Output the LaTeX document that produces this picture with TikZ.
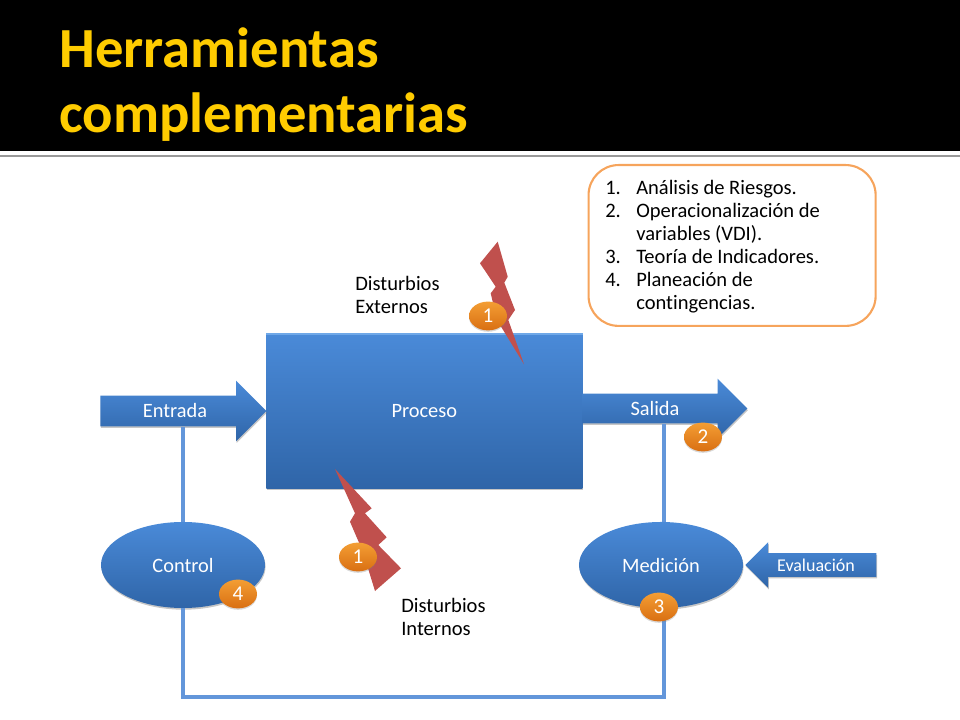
\documentclass[tikz,border=0pt]{standalone}
\usepackage{fontspec}
\setmainfont{Carlito}[Ligatures=NoCommon]
\usetikzlibrary{
  shapes.geometric,
  shapes.arrows,
  shadows
}
\definecolor{azulclaro}{HTML}{4A8AD8}
\definecolor{azuloscuro}{HTML}{2F65A8}
\definecolor{bordeclaro}{HTML}{6FA8E8}
\definecolor{linealazo}{HTML}{6396DA}
\definecolor{rayo}{HTML}{C0504D}
\definecolor{titulo}{HTML}{FFCC00}
\definecolor{naranjaclaro}{HTML}{F8A63A}
\definecolor{naranjaoscuro}{HTML}{D96F12}
\definecolor{bordelista}{HTML}{F6A45C}
\tikzset{
  bloque/.style={shade,top color=azulclaro,bottom color=azuloscuro,draw=none,text=white,
    drop shadow={shadow xshift=0.4pt,shadow yshift=-1.2pt,opacity=0.45}},
  flecha/.style={bloque,single arrow,inner sep=0pt},
  rotulo/.style={text=white,font=\fontsize{14.5}{16}\selectfont},
  elipse/.style={bloque,ellipse,minimum width=4.1cm,minimum height=2.15cm,font=\fontsize{14.5}{16}\selectfont},
  medalla/.style={ellipse,shade,top color=naranjaclaro!85!naranjaoscuro,middle color=naranjaclaro,bottom color=naranjaoscuro,text=white,inner sep=0pt,
    minimum width=0.95cm,minimum height=0.72cm,font=\fontsize{15}{16}\selectfont,
    drop shadow={shadow xshift=0pt,shadow yshift=-1pt,opacity=0.3}},
  lazo/.style={draw=linealazo,line width=2.2pt},
  disturbio/.style={anchor=north west,align=left,inner sep=0pt,font=\fontsize{14.6}{16.4}\selectfont}
}
\begin{document}
\begin{tikzpicture}[x=0.025cm,y=-0.025cm]
	\useasboundingbox (0,0) rectangle (960,720);
	\fill[black] (0,0) rectangle (960,151);
	\fill[gray!80] (0,155.5) rectangle (960,157.5);
	\node[anchor=north west,inner sep=0pt,text=titulo,font=\bfseries\fontsize{40.3}{46.5}\selectfont,align=left] (titulo) at (59,27) {Herramientas\\complementarias};
	% lista
	\node[draw=bordelista,line width=1.5pt,rounded corners=0.75cm,minimum width=7.175cm,minimum height=4.02cm,anchor=north west] (lista) at (587.5,164) {};
	\node[anchor=north west,inner sep=0pt,font=\fontsize{14.6}{16.4}\selectfont] (items) at (605,178) {%
		\begin{tabular}{@{}p{0.775cm}@{}l@{}}
		1. & Análisis de Riesgos.\\
		2. & Operacionalización de\\
		   & variables (VDI).\\
		3. & Teoría de Indicadores.\\
		4. & Planeación de\\
		   & contingencias.
		\end{tabular}};
	% bloques
	\node[bloque,rotulo,minimum width=7.9cm,minimum height=3.85cm,anchor=north west] (proceso) at (266,334) {Proceso};
	\draw[bordeclaro,line width=1.2pt] (proceso.north west) -- (proceso.north east);
	\node[flecha,anchor=tail,minimum height=4.15cm,minimum width=1.5cm,single arrow head extend=0.375cm] (entrada) at (100,411) {\rule{0pt}{0.75cm}};
	\node[rotulo] (entradatxt) at (175,410.5) {Entrada};
	\node[flecha,anchor=tail,minimum height=4.125cm,minimum width=1.475cm,single arrow head extend=0.375cm] (salida) at (582,408.5) {\rule{0pt}{0.725cm}};
	\node[rotulo] (salidatxt) at (655,408) {Salida};
	\node[elipse] (control) at (183,565) {Control};
	\node[elipse] (medicion) at (661,565) {Medición};
	\node[flecha,shape border rotate=180,anchor=tip,minimum height=3.275cm,minimum width=1.125cm,single arrow head extend=0.275cm] (evaluacion) at (745,565) {\rule{0pt}{0.575cm}};
	\node[rotulo,font=\fontsize{12.8}{14}\selectfont] (evaluaciontxt) at (816,565) {Evaluación};
	% lazo
	\coordinate (lazoder) at (664,697);
	\coordinate (lazoizq) at (183,697);
	\draw[lazo] (control.north) -- (control.north |- entrada.before tail);
	\draw[lazo] (lazoder |- medicion.north) -- (lazoder |- salida.before tail);
	\draw[lazo] (lazoder |- medicion.south) -- (lazoder) -- (lazoizq) -- (control.south);
	% rayos
	\fill[rayo] (497.7,241.7) -- (507.7,276.7) -- (504.3,282.7) -- (515,310) -- (508.3,320) -- (524,364.3) -- (497,320) -- (490.7,293.3) -- (495.7,286.7) -- (480,263.3) -- cycle;
	\fill[rayo] (335,469) -- (371.7,508.3) -- (365,513.3) -- (386.7,537.3) -- (378.3,545) -- (401,568.3) -- (375,591) -- (367,565) -- (360,545) -- (350,521.7) -- (355,513.3) -- cycle;
	% medallas
	\node[medalla] (uno) at (488,316) {1};
	\node[medalla] (unob) at (358,557) {1};
	\node[medalla] (dos) at (703,437) {2};
	\node[medalla] (cuatro) at (238,594) {4};
	\node[medalla] (tres) at (659,607) {3};
	\node[disturbio] (externos) at (355,276) {Disturbios\\Externos};
	\node[disturbio] (internos) at (401,598) {Disturbios\\Internos};
\end{tikzpicture}
\end{document}
